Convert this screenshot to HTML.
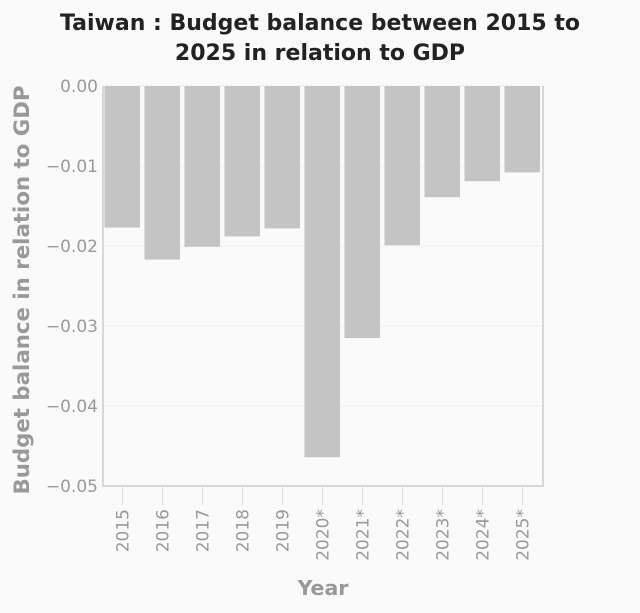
<!DOCTYPE html>
<html><head><meta charset="utf-8"><style>
body{margin:0;background:#fafafa;font-family:"Liberation Sans","DejaVu Sans",sans-serif;}
</style></head><body>
<svg id="chart" width="640" height="608" xmlns="http://www.w3.org/2000/svg">
<rect width="640" height="608" fill="#fafafa"/>
<text x="320" y="30" text-anchor="middle" font-family="DejaVu Sans,sans-serif" font-weight="bold" font-size="22" fill="#222">Taiwan : Budget balance between 2015 to</text>
<text x="320" y="60" text-anchor="middle" font-family="DejaVu Sans,sans-serif" font-weight="bold" font-size="22" fill="#222">2025 in relation to GDP</text>
<g id="grid"></g><g id="bars"></g><g id="axes"></g>
<text x="323" y="595" text-anchor="middle" font-family="DejaVu Sans,sans-serif" font-weight="bold" font-size="20.5" fill="#999">Year</text>
<text transform="translate(29,290) rotate(-90)" text-anchor="middle" font-family="DejaVu Sans,sans-serif" font-weight="bold" font-size="21.3" fill="#999">Budget balance in relation to GDP</text>
</svg>
<script>
const categories=["2015","2016","2017","2018","2019","2020*","2021*","2022*","2023*","2024*","2025*"];
const values=[-0.0177,-0.0217,-0.0201,-0.0188,-0.0178,-0.0464,-0.0315,-0.0199,-0.0139,-0.0119,-0.0108];
const yTicks=[0,-0.01,-0.02,-0.03,-0.04,-0.05];
const yTickLabels=["0.00","−0.01","−0.02","−0.03","−0.04","−0.05"];
const NS="http://www.w3.org/2000/svg";
const L=103,R=543,T=86,B=486;
const band=(R-L)/categories.length;
function y(v){return T+(0-v)/0.05*(B-T);}
function x(i){return L+i*band;}
function mk(tag,attrs,parent){const e=document.createElementNS(NS,tag);for(const k in attrs)e.setAttribute(k,attrs[k]);document.getElementById(parent).appendChild(e);return e;}
yTicks.forEach((t,i)=>{
 const g=mk("line",{x1:L,x2:R,y1:y(t),y2:y(t),stroke:"#eee","stroke-width":1},"grid");
 
 
 const tl=mk("text",{x:L-5,y:y(t)+6,"text-anchor":"end","font-family":"DejaVu Sans,sans-serif","font-size":"17",fill:"#999"},"axes");
 tl.textContent=yTickLabels[i];
 
 
});
values.forEach((v,i)=>{
 const b=mk("rect",{x:x(i)+1.5,y:y(0),width:band-4.5,height:y(v)-y(0),fill:"#c4c4c4"},"bars");
 
 
 const cx=x(i)+band/2-0.5;
 const tk=mk("line",{x1:cx,x2:cx,y1:B,y2:B+19,stroke:"#ddd","stroke-width":1},"axes");
 
 
 const tl=mk("text",{transform:`translate(${cx+6},${B+23}) rotate(-90)`,"text-anchor":"end","font-family":"DejaVu Sans,sans-serif","font-size":"17",fill:"#999"},"axes");
 tl.textContent=categories[i];
 
 
});
const ax=mk("path",{d:`M${L} ${T}V${B}H${R}V${T}`,fill:"none",stroke:"#ccc","stroke-width":1.5},"axes");


</script>
</body></html>
